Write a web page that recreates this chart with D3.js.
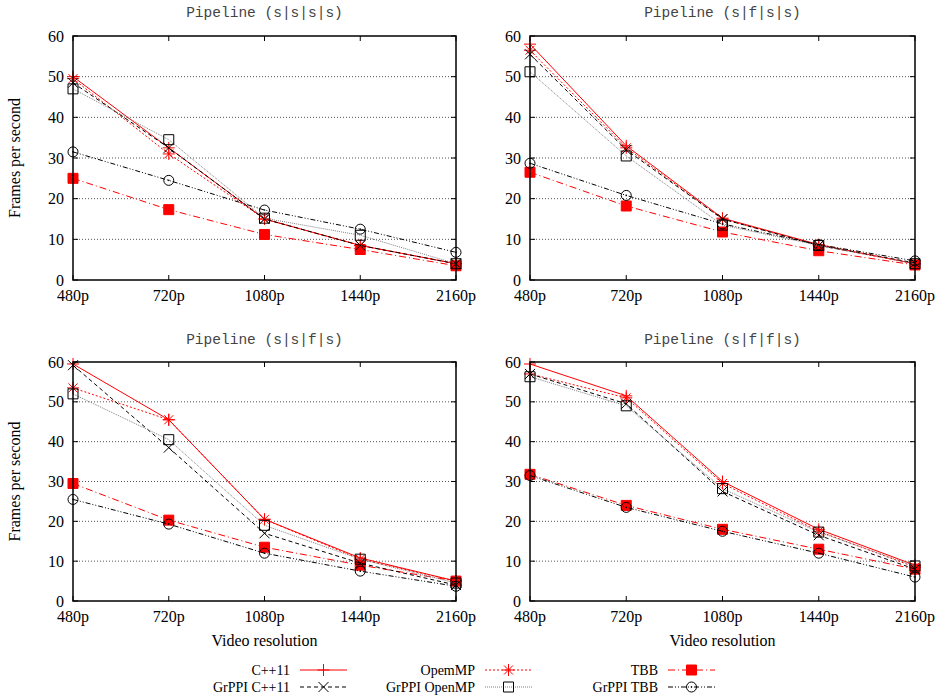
<!DOCTYPE html>
<html>
<head>
<meta charset="utf-8">
<script src="https://cdn.jsdelivr.net/npm/d3@7/dist/d3.min.js"></script>
<style>
  body { margin: 0; background: #fff; }
</style>
</head>
<body>
<script>
    // categories and series
    var resolutions = ["480p", "720p", "1080p", "1440p", "2160p"];
    var seriesNames = ["C++11", "OpemMP", "TBB", "GrPPI C++11", "GrPPI OpenMP", "GrPPI TBB"];
    var yTicks = [0, 10, 20, 30, 40, 50, 60];
    var panelTitles = ["Pipeline (s|s|s|s)", "Pipeline (s|f|s|s)", "Pipeline (s|s|f|s)", "Pipeline (s|f|f|s)"];

    // values per panel, one row per series (same order as seriesNames)
    var valsSSSS = [
        [50, 32.5, 15, 8.5, 4],
        [49.5, 31, 15, 8.5, 4],
        [25, 17.3, 11.2, 7.5, 3.5],
        [48.5, 32.5, 15, 8.5, 4],
        [47, 34.5, 15.2, 11, 4],
        [31.5, 24.5, 17.2, 12.5, 6.8]
    ];
    var valsSFSS = [
        [58, 33, 15.2, 8.7, 4],
        [56.5, 32.5, 15, 8.5, 4],
        [26.5, 18.2, 11.8, 7.2, 3.7],
        [55.5, 32, 15, 8.5, 4.2],
        [51.2, 30.5, 13.5, 8.5, 4],
        [28.7, 20.8, 13.8, 8.7, 4.7]
    ];
    var valsSSFS = [
        [59.5, 45.5, 20.5, 10.8, 5],
        [53.5, 45.5, 20.5, 10.5, 5],
        [29.5, 20.3, 13.5, 9, 5],
        [59.2, 38.5, 17, 9.5, 4],
        [52, 40.5, 19, 10.5, 4.5],
        [25.5, 19.3, 12, 7.5, 3.7]
    ];
    var valsSFFS = [
        [59.5, 51.5, 30, 18, 9],
        [57, 51, 29.5, 17.5, 8.5],
        [31.8, 24, 18, 13, 8],
        [57, 49.5, 27.5, 16.5, 8],
        [56.3, 49, 28.2, 17.3, 8.8],
        [31.5, 23.5, 17.5, 12, 6]
    ];
    var panelValues = [valsSSSS, valsSFSS, valsSSFS, valsSFFS];

    // line / point styles, gnuplot-like
    var styles = [
        {color: "#ff0000", mcolor: "#ff0000", dash: null, marker: "plus"},
        {color: "#ff0000", mcolor: "#ff0000", dash: "2,2", marker: "star"},
        {color: "#ff0000", mcolor: "#ff0000", dash: "7,3,1,3", marker: "fsquare"},
        {color: "#000000", mcolor: "#000000", dash: "4,3", marker: "cross"},
        {color: "#808080", mcolor: "#000000", dash: "1,1", marker: "square"},
        {color: "#000000", mcolor: "#000000", dash: "5,2,1,2,1,2", marker: "circle"}
    ];

    var serif = "'Liberation Serif', 'DejaVu Serif', 'Times New Roman', serif";
    var W = 938, H = 700;
    var svg = d3.select("body").append("svg")
        .attr("width", W).attr("height", H)
        .attr("font-family", serif)
        .style("font-family", serif);

    var boxes = [
        {x0: 73, x1: 456, y0: 36, y1: 280, title: 12, ylabel: true, xlabel: false},
        {x0: 530, x1: 915, y0: 36, y1: 280, title: 12, ylabel: false, xlabel: false},
        {x0: 73, x1: 456, y0: 362, y1: 601, title: 339, ylabel: true, xlabel: true},
        {x0: 530, x1: 915, y0: 362, y1: 601, title: 339, ylabel: false, xlabel: true}
    ];

    function markerPath(type) {
        if (type == "plus") return "M-6,0H6M0,-6V6";
        if (type == "cross") return "M-5,-5L5,5M-5,5L5,-5";
        if (type == "star") return "M-6,0H6M0,-6V6M-4.5,-4.5L4.5,4.5M-4.5,4.5L4.5,-4.5";
        return "M-5,-5h10v10h-10z";
    }

    function drawMarker(g, type, color) {
        if (type == "circle") {
            g.append("circle").attr("r", 5).attr("fill", "none").attr("stroke", color).attr("stroke-width", 1);
            g.append("circle").attr("r", 0.8).attr("fill", color);
            return;
        }
        var p = g.append("path").attr("d", markerPath(type)).attr("stroke", color).attr("stroke-width", 1);
        if (type == "fsquare") p.attr("fill", color);
        else p.attr("fill", "none");
    }

    boxes.forEach(function (b, pi) {
        var x = d3.scalePoint().domain(resolutions).range([b.x0, b.x1]);
        var y = d3.scaleLinear().domain([0, 60]).range([b.y1, b.y0]);
        var g = svg.append("g");

        // grid
        g.selectAll("line.grid").data(yTicks.filter(function (t) { return t > 0 && t < 60; }))
            .enter().append("line")
            .attr("x1", b.x0).attr("x2", b.x1)
            .attr("y1", function (d) { return y(d); }).attr("y2", function (d) { return y(d); })
            .attr("stroke", "#555").attr("stroke-width", 1).attr("stroke-dasharray", "1,2");

        // ticks (inward, mirrored)
        yTicks.forEach(function (t) {
            g.append("line").attr("x1", b.x0).attr("x2", b.x0 + 5).attr("y1", y(t)).attr("y2", y(t)).attr("stroke", "#000");
            g.append("line").attr("x1", b.x1).attr("x2", b.x1 - 5).attr("y1", y(t)).attr("y2", y(t)).attr("stroke", "#000");
        });
        resolutions.forEach(function (r) {
            g.append("line").attr("x1", x(r)).attr("x2", x(r)).attr("y1", b.y1).attr("y2", b.y1 - 5).attr("stroke", "#000");
            g.append("line").attr("x1", x(r)).attr("x2", x(r)).attr("y1", b.y0).attr("y2", b.y0 + 5).attr("stroke", "#000");
        });

        // tick labels
        g.selectAll("text.yt").data(yTicks).enter().append("text")
            .attr("x", b.x0 - 9).attr("y", function (d) { return y(d); })
            .attr("dy", "0.35em").attr("text-anchor", "end")
            .attr("font-size", 16).text(function (d) { return d; });
        g.selectAll("text.xt").data(resolutions).enter().append("text")
            .attr("x", function (d) { return x(d); }).attr("y", b.y1 + 21)
            .attr("text-anchor", "middle")
            .attr("font-size", 16).text(function (d) { return d; });

        // title
        g.append("text").attr("x", (b.x0 + b.x1) / 2).attr("y", b.title).attr("dy", "0.35em")
            .attr("text-anchor", "middle").attr("fill", "#444")
            .style("font-family", "'Liberation Mono', 'DejaVu Sans Mono', monospace")
            .attr("font-size", 14.5).text(panelTitles[pi]);

        if (b.ylabel) {
            g.append("text").attr("transform", "translate(20," + ((b.y0 + b.y1) / 2) + ") rotate(-90)")
                .attr("text-anchor", "middle").attr("font-size", 16).text("Frames per second");
        }
        if (b.xlabel) {
            g.append("text").attr("x", (b.x0 + b.x1) / 2).attr("y", b.y1 + 45)
                .attr("text-anchor", "middle").attr("font-size", 16).text("Video resolution");
        }

        // series lines and markers
        var line = d3.line().x(function (d, i) { return x(resolutions[i]); }).y(function (d) { return y(d); });
        panelValues[pi].forEach(function (vals, si) {
            var st = styles[si];
            g.append("path").attr("d", line(vals)).attr("fill", "none")
                .attr("stroke", st.color).attr("stroke-width", 1)
                .attr("stroke-dasharray", st.dash);
            vals.forEach(function (v, i) {
                var m = g.append("g").attr("transform", "translate(" + x(resolutions[i]) + "," + y(v) + ")");
                drawMarker(m, st.marker, st.mcolor);
            });
        });

        // frame
        g.append("rect").attr("x", b.x0).attr("y", b.y0)
            .attr("width", b.x1 - b.x0).attr("height", b.y1 - b.y0)
            .attr("fill", "none").attr("stroke", "#000").attr("stroke-width", 1.5);
    });

    // legend: col0 = C++11 / GrPPI C++11, col1 = OpemMP / GrPPI OpenMP, col2 = TBB / GrPPI TBB
    var legendCols = [290, 475, 658];
    var legendRows = [670, 687];
    seriesNames.forEach(function (name, i) {
        var col = i % 3;
        var row = i < 3 ? 0 : 1;
        var lx = legendCols[col], ly = legendRows[row];
        var st = styles[i];
        svg.append("text").attr("x", lx).attr("y", ly).attr("dy", "0.35em")
            .attr("text-anchor", "end").attr("font-size", 14).text(name);
        svg.append("line").attr("x1", lx + 10).attr("x2", lx + 57).attr("y1", ly).attr("y2", ly)
            .attr("stroke", st.color).attr("stroke-width", 1).attr("stroke-dasharray", st.dash);
        var m = svg.append("g").attr("transform", "translate(" + (lx + 33.5) + "," + ly + ")");
        drawMarker(m, st.marker, st.mcolor);
    });
</script>
</body>
</html>
